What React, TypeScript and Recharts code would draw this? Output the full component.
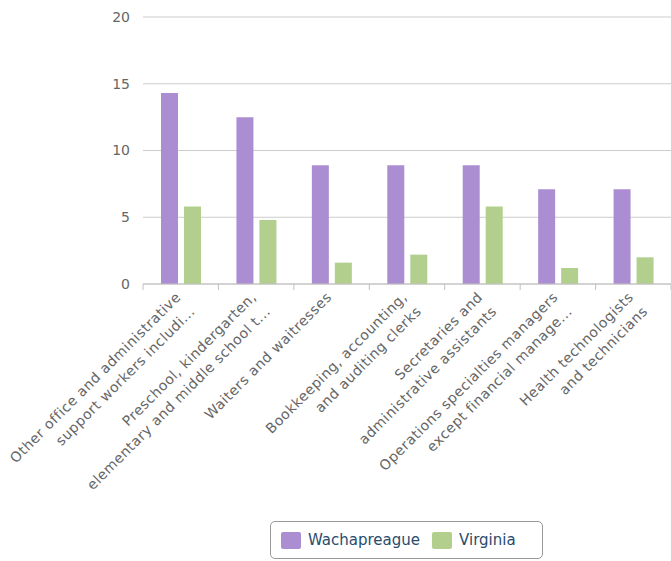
import React from 'react';
import { BarChart, Bar, XAxis, YAxis, CartesianGrid } from 'recharts';

const categories: string[][] = [
  ['Other office and administrative', 'support workers includi...'],
  ['Preschool, kindergarten,', 'elementary and middle school t...'],
  ['Waiters and waitresses'],
  ['Bookkeeping, accounting,', 'and auditing clerks'],
  ['Secretaries and', 'administrative assistants'],
  ['Operations specialties managers', 'except financial manage...'],
  ['Health technologists', 'and technicians'],
];
const wachapreague = [14.3, 12.5, 8.9, 8.9, 8.9, 7.1, 7.1];
const virginia = [5.8, 4.8, 1.6, 2.2, 5.8, 1.2, 2.0];
const yTicks = [0, 5, 10, 15, 20];
const seriesNames = ['Wachapreague', 'Virginia'];
const colors = ['#ab8ed1', '#b3cf8e'];

const data = categories.map((c, i) => ({
  key: String(i),
  Wachapreague: wachapreague[i],
  Virginia: virginia[i],
}));

const W = 671;
const H = 561;
const LEFT = 143;
const TOP = 17;
const PLOT_BOTTOM = 284;
const BAND = (W - LEFT) / categories.length;
const FONT = '"DejaVu Sans", Verdana, sans-serif';

const XTick = (props: any) => {
  const { x, payload, index } = props;
  const lines = categories[Number(payload.value)] || [];
  const axisY = PLOT_BOTTOM;
  const ax = x + 1;
  const ay = axisY + 14;
  return (
    <g>
      <line x1={x - BAND / 2} y1={axisY} x2={x - BAND / 2} y2={axisY + 6} stroke="#c0c0c0" />
      {index === categories.length - 1 && (
        <line x1={x + BAND / 2} y1={axisY} x2={x + BAND / 2} y2={axisY + 6} stroke="#c0c0c0" />
      )}
      <text
        x={ax}
        y={ay}
        textAnchor="end"
        fill="#666"
        fontSize={14}
        letterSpacing={0.5}
        fontFamily={FONT}
        transform={`rotate(-45, ${ax}, ${ay})`}
      >
        {lines.map((l, i) => (
          <tspan key={i} x={ax} dy={i === 0 ? 0 : 20}>
            {l}
          </tspan>
        ))}
      </text>
    </g>
  );
};

export default function App() {
  return (
    <div style={{ position: 'absolute', left: 0, top: 0, width: W, height: H, background: '#fff' }}>
      <BarChart
        width={W}
        height={H}
        data={data}
        margin={{ top: TOP, right: 0, left: 0, bottom: 0 }}
        barSize={17}
        barGap={6}
      >
        <CartesianGrid vertical={false} stroke="#cccccc" />
        <XAxis
          dataKey="key"
          height={H - PLOT_BOTTOM}
          stroke="#c0c0c0"
          tickLine={false}
          interval={0}
          tick={<XTick />}
        />
        <YAxis
          width={LEFT}
          domain={[0, 20]}
          ticks={yTicks}
          axisLine={false}
          tickLine={false}
          tickSize={0}
          tickMargin={13}
          tick={{ fill: '#666', fontSize: 14, fontFamily: FONT }}
        />
        <Bar dataKey="Wachapreague" fill={colors[0]} isAnimationActive={false} />
        <Bar dataKey="Virginia" fill={colors[1]} isAnimationActive={false} />
      </BarChart>
      <div
        style={{
          position: 'absolute',
          left: 270,
          top: 521,
          width: 271,
          height: 36,
          border: '1px solid #999',
          borderRadius: 5,
          display: 'flex',
          alignItems: 'center',
          fontFamily: FONT,
          fontSize: 15,
          color: '#274b6d',
        }}
      >
        {seriesNames.map((n, i) => (
          <div key={n} style={{ display: 'flex', alignItems: 'center', marginLeft: i === 0 ? 10 : 12 }}>
            <span
              style={{
                display: 'inline-block',
                width: 20,
                height: 17,
                background: colors[i],
                borderRadius: 2,
                marginRight: 7,
              }}
            />
            <span>{n}</span>
          </div>
        ))}
      </div>
    </div>
  );
}
